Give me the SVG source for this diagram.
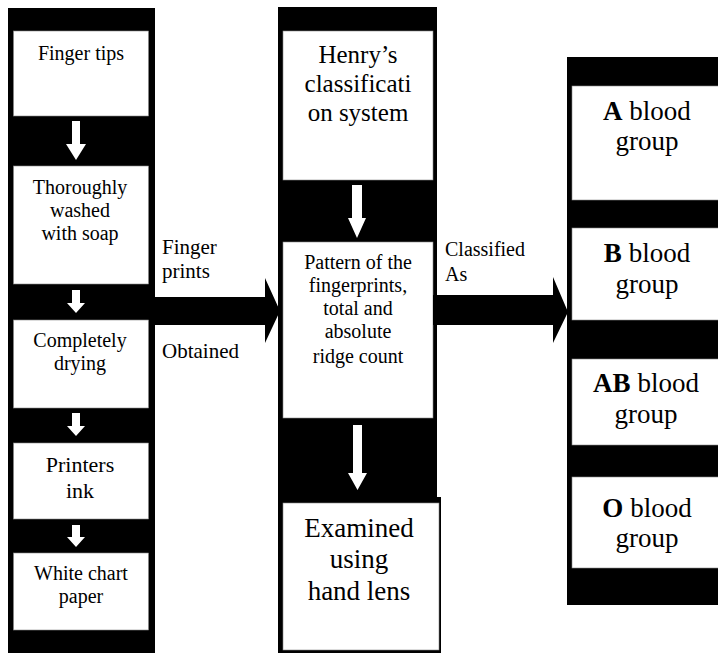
<svg xmlns="http://www.w3.org/2000/svg" width="718" height="653" viewBox="0 0 718 653" font-family="'Liberation Serif', 'Times New Roman', Times, serif">
<style>
.bg{fill:#000}
.box{fill:#fff;stroke:#888;stroke-width:0.6}
text{font-family:'Liberation Serif','Times New Roman',Times,serif;fill:#000;text-anchor:middle}
.s20{font-size:20px}
.s22{font-size:22px}
.s25{font-size:25px}
.s27{font-size:27px}
.lbl{text-anchor:start;font-size:21px}
.wa{fill:#fff}
.ba{fill:#000}
</style>
<rect width="718" height="653" fill="#fff"/>
<g id="columns">
<rect class="bg" x="8" y="8" width="147" height="645"/>
<rect class="bg" x="278" y="7" width="159" height="490"/>
<rect class="bg" x="278" y="497" width="163" height="156"/>
<rect class="bg" x="567" y="57" width="151" height="548"/>
</g>
<g id="n-finger-tips">
<rect class="box" x="13.5" y="31" width="135" height="85"/>
<text class="s20" x="81" y="60">Finger tips</text>
</g>
<g id="n-washed">
<rect class="box" x="13.5" y="166" width="135" height="118"/>
<text class="s20" x="80" y="194">Thoroughly</text>
<text class="s20" x="80" y="217">washed</text>
<text class="s20" x="80" y="240">with soap</text>
</g>
<g id="n-drying">
<rect class="box" x="13.5" y="320" width="135" height="88"/>
<text class="s20" x="80" y="347">Completely</text>
<text class="s20" x="80" y="370">drying</text>
</g>
<g id="n-ink">
<rect class="box" x="13.5" y="443" width="135" height="76"/>
<text class="s22" x="80" y="472">Printers</text>
<text class="s22" x="80" y="498">ink</text>
</g>
<g id="n-paper">
<rect class="box" x="13.5" y="553" width="135" height="77"/>
<text class="s20" x="81" y="580">White chart</text>
<text class="s20" x="81" y="603">paper</text>
</g>
<g id="n-henry">
<rect class="box" x="283" y="31" width="150" height="149"/>
<text class="s25" x="358" y="63">Henry’s</text>
<text class="s25" x="358" y="92">classificati</text>
<text class="s25" x="358" y="121">on system</text>
</g>
<g id="n-pattern">
<rect class="box" x="283" y="242" width="150" height="176"/>
<text class="s20" x="358" y="269">Pattern of the</text>
<text class="s20" x="358" y="292">fingerprints,</text>
<text class="s20" x="358" y="315">total and</text>
<text class="s20" x="358" y="338">absolute</text>
<text class="s20" x="358" y="363">ridge count</text>
</g>
<g id="n-examined">
<rect class="box" x="283" y="503" width="156" height="147"/>
<text class="s27" x="359" y="537">Examined</text>
<text class="s27" x="359" y="568">using</text>
<text class="s27" x="359" y="600">hand lens</text>
</g>
<g id="n-a">
<rect class="box" x="572" y="86" width="147" height="114"/>
<text class="s27" x="647" y="120"><tspan font-weight="bold">A</tspan> blood</text>
<text class="s27" x="647" y="150">group</text>
</g>
<g id="n-b">
<rect class="box" x="572" y="228" width="147" height="92"/>
<text class="s27" x="647" y="262"><tspan font-weight="bold">B</tspan> blood</text>
<text class="s27" x="647" y="293">group</text>
</g>
<g id="n-ab">
<rect class="box" x="572" y="359" width="147" height="86"/>
<text class="s27" x="646" y="392"><tspan font-weight="bold">AB</tspan> blood</text>
<text class="s27" x="646" y="423">group</text>
</g>
<g id="n-o">
<rect class="box" x="572" y="477" width="147" height="91"/>
<text class="s27" x="647" y="517"><tspan font-weight="bold">O</tspan> blood</text>
<text class="s27" x="647" y="547">group</text>
</g>
<g id="connectors">
<polygon class="wa" points="72,121 80,121 80,144 86,144 76,160 66,144 72,144"/>
<polygon class="wa" points="72,290 80,290 80,303 85,303 76,313 67,303 72,303"/>
<polygon class="wa" points="72,413 80,413 80,426 85,426 76,436 67,426 72,426"/>
<polygon class="wa" points="72,525 80,525 80,537 85,537 76,547 67,537 72,537"/>
<polygon class="wa" points="352,185 362,185 362,218 366,218 357,238 348,218 352,218"/>
<polygon class="wa" points="353,425 362,425 362,473 367,473 357.5,490 348,473 353,473"/>
<polygon class="ba" points="150,297 265,297 265,278 280,311 265,343 265,325 150,325"/>
<polygon class="ba" points="433,295 553,295 553,277 568,312 553,343 553,325 433,325"/>
<text class="lbl" x="162" y="254">Finger</text>
<text class="lbl" x="162" y="278">prints</text>
<text class="lbl" x="162" y="358">Obtained</text>
<text class="lbl" x="445" y="256" style="font-size:20px">Classified</text>
<text class="lbl" x="445" y="281" style="font-size:20px">As</text>
</g>
</svg>
